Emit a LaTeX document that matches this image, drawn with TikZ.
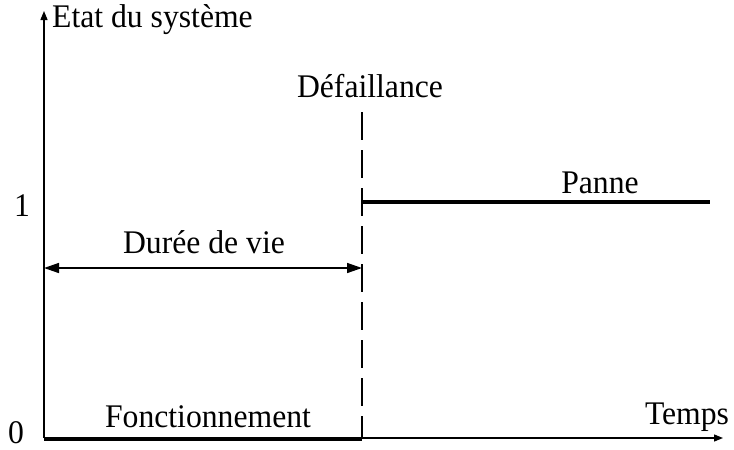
\documentclass[tikz,border=0pt]{standalone}
\usepackage{fontspec}
\setmainfont{Liberation Serif}[FakeStretch=0.96]
\usetikzlibrary{arrows.meta}
\begin{document}
\begin{tikzpicture}[x=1pt,y=-1pt,
  lbl/.style={inner sep=0pt,font=\fontsize{33}{38}\selectfont},
  axis/.style={line width=1.3pt,-{Triangle[length=9pt,width=7pt]}},
  thickline/.style={line width=4pt},
  dim/.style={line width=1.5pt,{Triangle[length=15pt,width=10pt]}-{Triangle[length=15pt,width=10pt]}},
  dashline/.style={line width=1.2pt,dash pattern=on 28pt off 10pt}]
\useasboundingbox (0,0) rectangle (734,450);
\coordinate (O) at (44,438);
\coordinate (Ytop) at (44,11);
\coordinate (Xend) at (723,438);
\coordinate (D0) at (362,438);
\coordinate (Dtop) at (362,112);
\coordinate (P0) at (362,202);
\coordinate (P1) at (710,202);
\coordinate (A0) at (44,268);
\coordinate (A1) at (362,268);
\draw[axis] (O) -- (Ytop);
\draw[axis] (O) -- (Xend);
\draw[dashline] (Dtop) -- (D0);
\draw[thickline] ([yshift=-1pt]O) -- ([yshift=-1pt]D0);
\draw[thickline] (P0) -- (P1);
\draw[dim] (A0) -- (A1);
\node[lbl,anchor=base west] (etat) at (52,27) {Etat du système};
\node[lbl,anchor=base] (def) at (370,97) {Défaillance};
\node[lbl,anchor=base] (duree) at (204,253) {Durée de vie};
\node[lbl,anchor=base] (panne) at (600,193) {Panne};
\node[lbl,anchor=base] (fonc) at (208,427) {Fonctionnement};
\node[lbl,anchor=base] (temps) at (687,424) {Temps};
\node[lbl,anchor=base] (un) at (22,216) {1};
\node[lbl,anchor=base] (zero) at (16,443) {0};
\end{tikzpicture}
\end{document}
